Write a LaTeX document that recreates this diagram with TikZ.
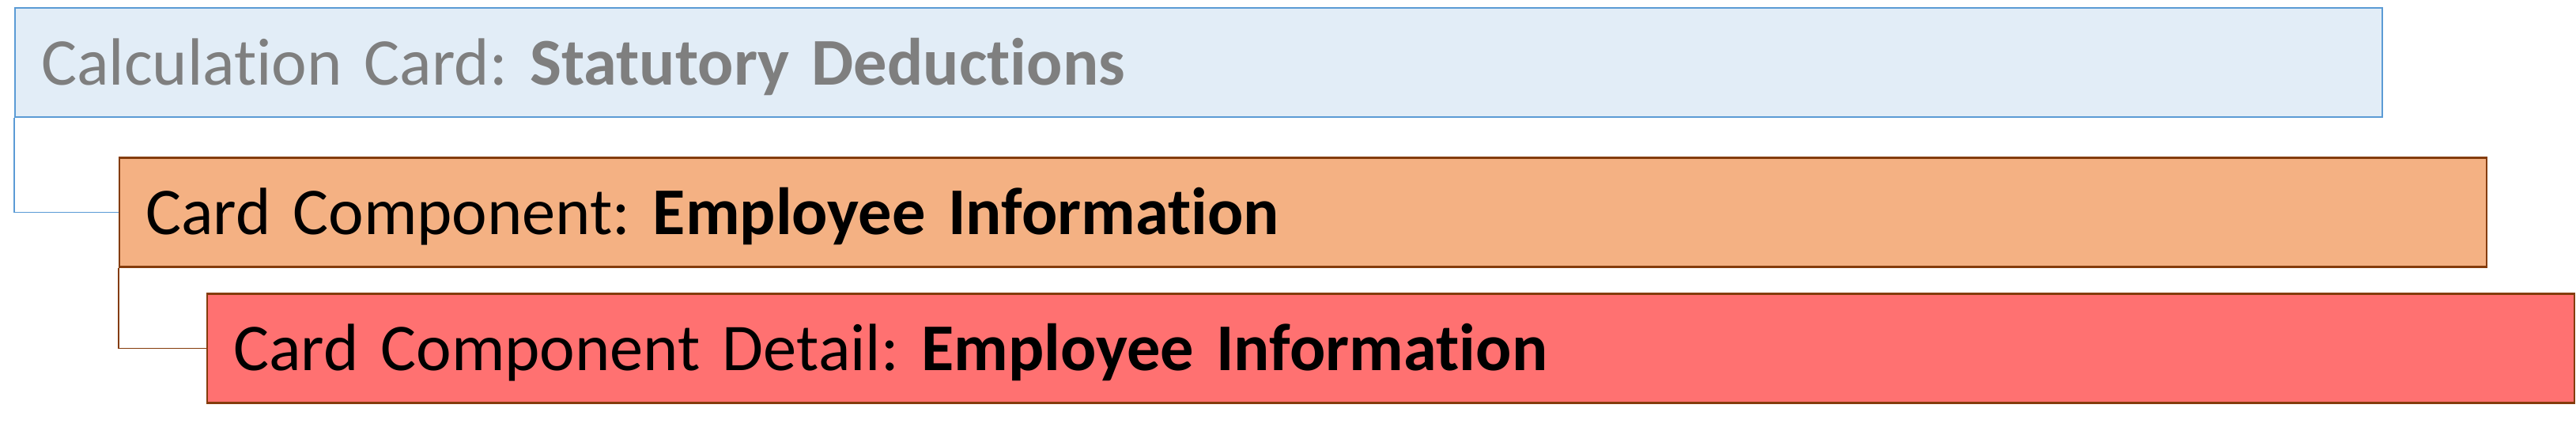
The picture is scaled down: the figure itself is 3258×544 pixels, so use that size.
\documentclass[tikz,border=0pt]{standalone}
\usepackage{fontspec}
\setmainfont{Carlito}[Ligatures=CommonOff]
\usepackage{tikz}
\usetikzlibrary{positioning}

\definecolor{cardfill}{HTML}{E2EDF7}
\definecolor{cardline}{HTML}{5B9BD5}
\definecolor{compfill}{HTML}{F4B183}
\definecolor{compline}{HTML}{843C0C}
\definecolor{detailfill}{HTML}{FF7171}
\definecolor{cardtext}{HTML}{7F7F7F}

\tikzset{
  level/.style={rectangle, draw, line width=2.4pt, anchor=north west,
    text width=2928pt, inner xsep=33pt, inner ysep=0pt, align=left,
    minimum height=138pt, text height=56.5pt, text depth=0pt,
    font=\fontsize{84.5pt}{101pt}\selectfont\frenchspacing},
  card/.style={level, draw=cardline, fill=cardfill, text=cardtext},
  comp/.style={level, draw=compline, fill=compfill},
  detail/.style={level, draw=compline, fill=detailfill},
  link/.style={line width=1.5pt}
}

\begin{document}
\begin{tikzpicture}[x=1pt, y=1pt]
  \useasboundingbox (0,0) rectangle (3258,-544);

  % Define nodes
  \node[card] (card) at (18,-9) {Calculation Card: \textbf{Statutory Deductions}};
  \node[comp, below=48.7pt of card.south west, anchor=north west, xshift=132pt] (comp) {Card Component: \textbf{Employee Information}};
  \node[detail, below=31.7pt of comp.south west, anchor=north west, xshift=111pt] (detail) {Card Component Detail: \textbf{Employee Information}};

  % Connect the nodes
  \draw[link, cardline] (card.south west) |- (comp.west);
  \draw[link, compline] (comp.south west) |- (detail.west);

\end{tikzpicture}
\end{document}
